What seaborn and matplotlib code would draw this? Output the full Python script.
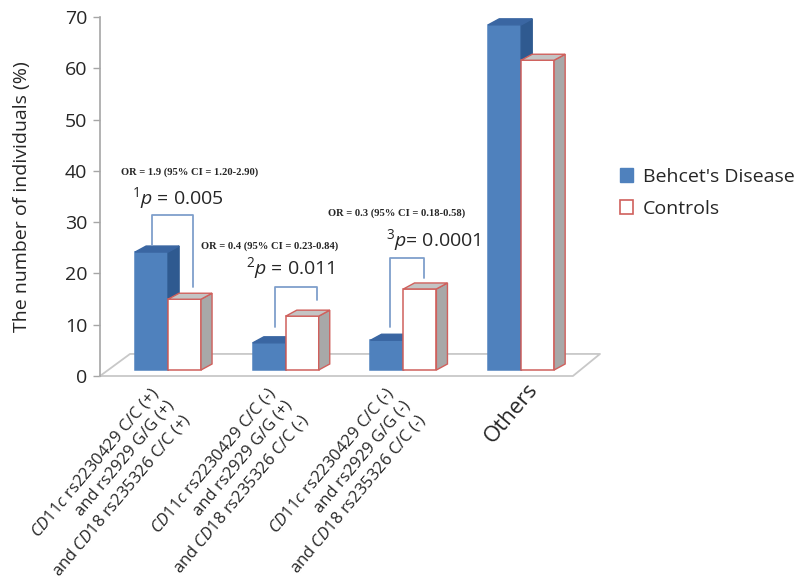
import matplotlib
matplotlib.use("Agg")
import matplotlib.pyplot as plt
from matplotlib.patches import Polygon, Patch
from matplotlib.transforms import ScaledTranslation
import numpy as np
import pandas as pd
import seaborn as sns

# ---- data -------------------------------------------------------------
categories = [
    "$\\it{CD11c}$ rs2230429 C/C (+)\nand rs2929 G/G (+)\nand $\\it{CD18}$ rs235326 C/C (+)",
    "$\\it{CD11c}$ rs2230429 C/C (-)\nand rs2929 G/G (+)\nand $\\it{CD18}$ rs235326 C/C (-)",
    "$\\it{CD11c}$ rs2230429 C/C (-)\nand rs2929 G/G (-)\nand $\\it{CD18}$ rs235326 C/C (-)",
    "Others",
]
groups = ["Behcet's Disease", "Controls"]
behcet = [23.0, 5.3, 5.8, 67.3]
controls = [13.8, 10.5, 15.8, 60.4]
or_labels = [
    "OR = 1.9 (95% CI = 1.20-2.90)",
    "OR = 0.4 (95% CI = 0.23-0.84)",
    "OR = 0.3 (95% CI = 0.18-0.58)",
]
p_labels = [r"$^{1}p$ = 0.005", r"$^{2}p$ = 0.011", r"$^{3}p$= 0.0001"]
yticks = [0, 10, 20, 30, 40, 50, 60, 70]
ylabel = "The number of individuals (%)"

# ---- style ------------------------------------------------------------
sns.set_style("white")
plt.rcParams["font.family"] = ["Open Sans", "DejaVu Sans"]
plt.rcParams["mathtext.fontset"] = "custom"
plt.rcParams["mathtext.rm"] = "Open Sans"
plt.rcParams["mathtext.it"] = "Open Sans:italic"
plt.rcParams["mathtext.bf"] = "Open Sans:bold"

BLUE = "#4F81BD"
BLUE_SIDE = "#2F5A90"
BLUE_TOP = "#3A66A2"
RED = "#D0605C"
GREY_SIDE = "#A8A8A8"
GREY_TOP = "#C4C4C4"
FLOOR = "#C8C8C8"
BRACKET = "#7F9FCB"
TEXT = "#262626"

df = pd.DataFrame({
    "category": categories * 2,
    "group": [groups[0]] * len(categories) + [groups[1]] * len(categories),
    "value": behcet + controls,
})

fig = plt.figure(figsize=(8.12, 5.81), dpi=100)
ax = fig.add_axes([100 / 812, 1 - 376 / 581, 500 / 812, 359 / 581])

sns.barplot(data=df, x="category", y="value", hue="group",
            order=categories, hue_order=groups,
            palette={groups[0]: BLUE, groups[1]: "white"},
            saturation=1, width=0.56, errorbar=None, legend=False, ax=ax)

ax.set_xlim(-0.578, 3.67)
ax.set_ylim(0, 70)

# bars stand a little above the front edge of the floor
lift = ScaledTranslation(0, 0.06, fig.dpi_scale_trans)
bar_tr = ax.transData + lift

# depth of the pseudo-3D bars, in data units
ddx, ddy = 0.094, 1.17

face_styles = [
    dict(front=(BLUE, BLUE), side=(BLUE_SIDE, BLUE_SIDE), top=(BLUE_TOP, BLUE_TOP), z=2),
    dict(front=("white", RED), side=(GREY_SIDE, RED), top=(GREY_TOP, RED), z=3),
]
for container, st in zip(ax.containers, face_styles):
    for bar in container:
        x, w, h = bar.get_x(), bar.get_width(), bar.get_height()
        bar.set_transform(bar_tr)
        bar.set_facecolor(st["front"][0])
        bar.set_edgecolor(st["front"][1])
        bar.set_linewidth(1.1)
        bar.set_zorder(st["z"])
        side = Polygon([(x + w, 0), (x + w + ddx, ddy), (x + w + ddx, h + ddy), (x + w, h)],
                       closed=True, facecolor=st["side"][0], edgecolor=st["side"][1],
                       linewidth=1.0, transform=bar_tr, zorder=st["z"])
        top = Polygon([(x, h), (x + ddx, h + ddy), (x + w + ddx, h + ddy), (x + w, h)],
                      closed=True, facecolor=st["top"][0], edgecolor=st["top"][1],
                      linewidth=1.0, transform=bar_tr, zorder=st["z"])
        ax.add_patch(side)
        ax.add_patch(top)

# floor of the 3D plot
floor_x = [-0.578, 3.44, 3.67, -0.323, -0.578]
floor_y = [0, 0, 4.3, 4.3, 0]
ax.plot(floor_x, floor_y, color=FLOOR, lw=1.3, clip_on=False, zorder=1)

# axes styling
for s in ["top", "right", "bottom"]:
    ax.spines[s].set_visible(False)
ax.spines["left"].set_color("#A6A6A6")
ax.spines["left"].set_linewidth(1.2)
ax.set_yticks(yticks)
ax.set_yticklabels([str(t) for t in yticks], fontsize=14, color=TEXT)
ax.tick_params(axis="y", direction="out", length=5, width=1.0, color="#A6A6A6", pad=4, left=True)
ax.set_xticks([])
ax.set_xlabel("")
ax.set_ylabel("")
fig.text(22 / 812, 1 - 197 / 581, ylabel, rotation=90, ha="center", va="center",
         fontsize=14, color=TEXT)

# category labels, rotated under each group
for i, lab in enumerate(categories):
    if lab == "Others":
        off = ScaledTranslation(0.05, -0.03, fig.dpi_scale_trans)
        fs = 16
    else:
        off = ScaledTranslation(-0.19, -0.08, fig.dpi_scale_trans)
        fs = 12
    ax.text(i, 0, lab, transform=ax.transData + off, rotation=50,
            rotation_mode="anchor", ha="right", va="top", multialignment="right",
            fontsize=fs, color=TEXT, linespacing=1.3)

# significance brackets and statistics
brackets = [
    ([-0.136, -0.136, 0.212, 0.212], [25.5, 31.4, 31.4, 17.3]),
    ([0.907, 0.907, 1.263, 1.263], [9.55, 17.3, 17.3, 14.8]),
    ([1.89, 1.89, 2.178, 2.178], [9.55, 23.0, 23.0, 19.1]),
]
or_pos = [(0.18, 39.8), (0.864, 25.3), (1.94, 31.8)]
p_pos = [(0.085, 34.7), (1.04, 21.1), (2.255, 26.5)]
for (bx, by), orl, pl, op, pp in zip(brackets, or_labels, p_labels, or_pos, p_pos):
    ax.plot(bx, by, color=BRACKET, lw=1.3, zorder=4, clip_on=False)
    ax.text(op[0], op[1], orl, ha="center", va="center", fontsize=7.6,
            fontweight="bold", family="Liberation Serif", color=TEXT, zorder=5)
    ax.text(pp[0], pp[1], pl, ha="center", va="center", fontsize=14,
            color=TEXT, zorder=5)

# legend
handles = [Patch(facecolor=BLUE, edgecolor=BLUE),
           Patch(facecolor="white", edgecolor=RED, linewidth=1.2)]
leg = fig.legend(handles, groups, loc="upper left",
                 bbox_to_anchor=(602 / 812, 1 - 150 / 581), frameon=False,
                 fontsize=14, handlelength=0.7, handleheight=0.7,
                 handletextpad=0.5, labelspacing=0.75)
for t in leg.get_texts():
    t.set_color(TEXT)

fig.savefig("out.png", dpi=100)
